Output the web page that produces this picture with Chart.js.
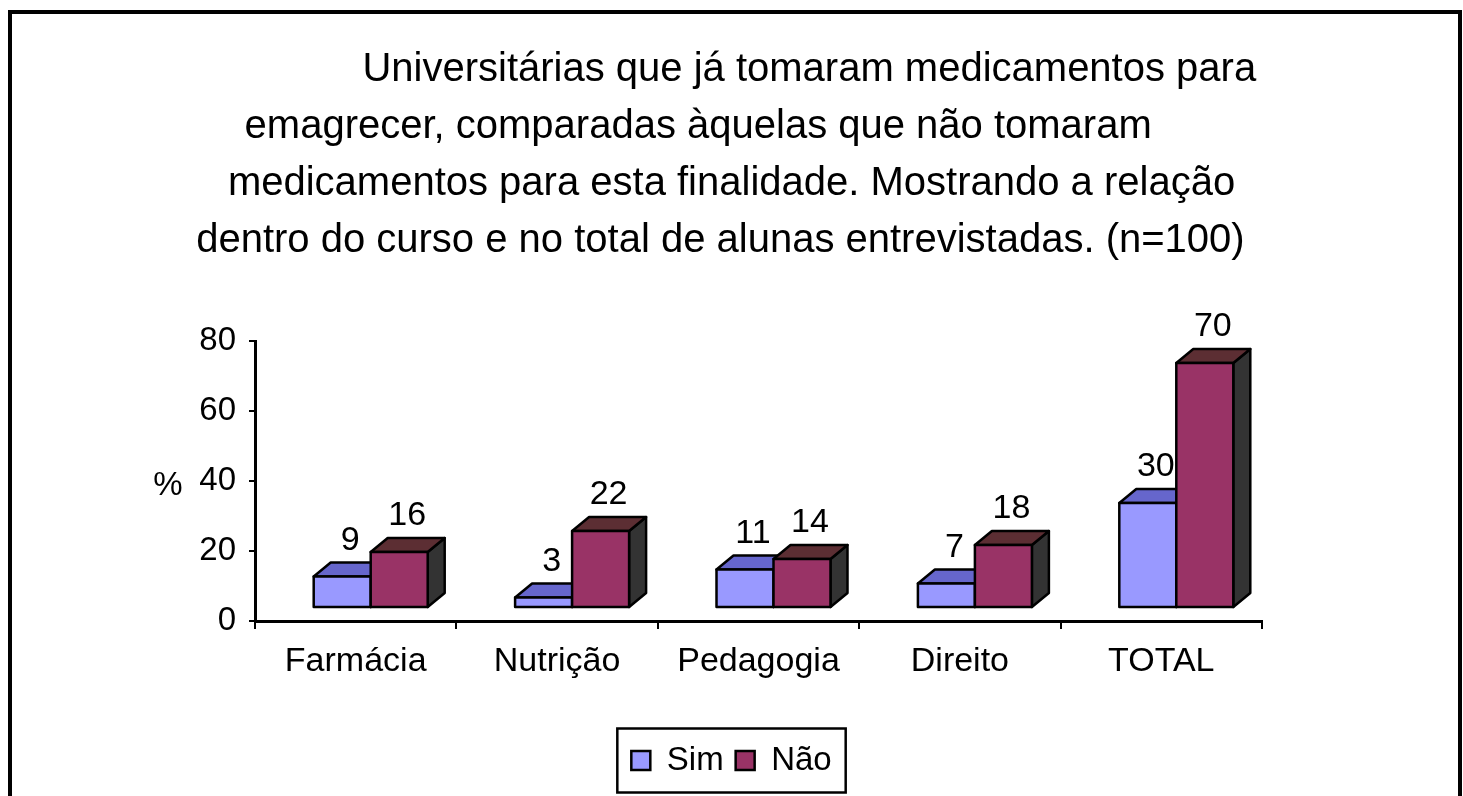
<!DOCTYPE html>
<html><head><meta charset="utf-8">
<script src="https://cdn.jsdelivr.net/npm/chart.js@4.4.0/dist/chart.umd.min.js"></script>
<style>
html,body{margin:0;padding:0;background:#fff;overflow:hidden;width:1463px;height:796px;}
#frame{position:absolute;left:8px;top:10px;width:1446px;height:900px;border:4px solid #000;border-bottom:none;}
#c{position:absolute;left:0;top:0;}
</style></head><body>
<div id="frame"></div>
<canvas id="c" width="1463" height="800"></canvas>
<script>
// ---- data ----
const categories = ['Farmácia', 'Nutrição', 'Pedagogia', 'Direito', 'TOTAL'];
const simValues = [9, 3, 11, 7, 30];
const naoValues = [16, 22, 14, 18, 70];
const seriesNames = ['Sim', 'Não'];
const yTickValues = [0, 20, 40, 60, 80];
const yAxisLabel = '%';
const titleLines = [
  '              Universitárias que já tomaram medicamentos para',
  'emagrecer, comparadas àquelas que não tomaram      ',
  'medicamentos para esta finalidade. Mostrando a relação',
  'dentro do curso e no total de alunas entrevistadas. (n=100)  '
];

// ---- styling ----
const FONT = "'Liberation Sans', Arial, sans-serif";
const DX = 17, DY = -14;          // oblique depth of the 3D boxes
const SHIFT_X = 15, SHIFT_Y = -13; // floor offset of the bars
const faces = [
  {front: '#9999FF', top: '#6666CC', side: '#4C4C99'},
  {front: '#993366', top: '#5C2E33', side: '#333333'}
];

Chart.defaults.font.family = FONT;
Chart.defaults.color = '#000';

function poly(ctx, pts, fill) {
  ctx.beginPath();
  ctx.moveTo(pts[0][0], pts[0][1]);
  for (let i = 1; i < pts.length; i++) ctx.lineTo(pts[i][0], pts[i][1]);
  ctx.closePath();
  ctx.fillStyle = fill;
  ctx.fill();
  ctx.stroke();
}

const bars3d = {
  id: 'bars3d',
  beforeDatasetsDraw(chart) {
    chart.ctx.save();
    chart.ctx.translate(SHIFT_X, SHIFT_Y);
  },
  afterDatasetsDraw(chart) {
    const ctx = chart.ctx;
    const metas = [chart.getDatasetMeta(0), chart.getDatasetMeta(1)];
    ctx.lineJoin = 'round';
    ctx.lineWidth = 2.5;
    ctx.strokeStyle = '#000';
    for (let i = 0; i < categories.length; i++) {
      metas.forEach((meta, d) => {
        const p = meta.data[i].getProps(['x', 'y', 'base', 'width'], true);
        const l = p.x - p.width / 2, r = p.x + p.width / 2, t = p.y, b = p.base;
        const c = faces[d];
        poly(ctx, [[r, t], [r + DX, t + DY], [r + DX, b + DY], [r, b]], c.side);
        poly(ctx, [[l, t], [l + DX, t + DY], [r + DX, t + DY], [r, t]], c.top);
        poly(ctx, [[l, t], [r, t], [r, b], [l, b]], c.front);
      });
    }
    ctx.fillStyle = '#000';
    ctx.font = '34px ' + FONT;
    ctx.textAlign = 'center';
    ctx.textBaseline = 'alphabetic';
    metas.forEach((meta, d) => {
      const vals = d === 0 ? simValues : naoValues;
      meta.data.forEach((el, i) => {
        const p = el.getProps(['x', 'y'], true);
        ctx.fillText(String(vals[i]), p.x + 8, p.y - 27);
      });
    });
    ctx.restore();
  },
  afterDraw(chart) {
    const ctx = chart.ctx;
    const ys = chart.scales.y;
    ctx.save();
    ctx.fillStyle = '#000';
    ctx.font = '33px ' + FONT;
    ctx.textAlign = 'center';
    ctx.textBaseline = 'middle';
    ctx.fillText(yAxisLabel, 168, ys.getPixelForValue(40) + 5);
    const hb = chart.legend.legendHitBoxes;
    if (hb && hb.length) {
      const left = hb[0].left - 14;
      const last = hb[hb.length - 1];
      const right = last.left + last.width + 14;
      const cy = hb[0].top + hb[0].height / 2;
      ctx.strokeStyle = '#000';
      ctx.lineWidth = 2.5;
      ctx.strokeRect(left, cy - 32, right - left, 64);
    }
    ctx.restore();
  }
};

new Chart(document.getElementById('c'), {
  type: 'bar',
  data: {
    labels: categories,
    datasets: [
      {label: seriesNames[0], data: simValues, backgroundColor: faces[0].front, borderColor: '#000', borderWidth: 2.5, clip: false},
      {label: seriesNames[1], data: naoValues, backgroundColor: faces[1].front, borderColor: '#000', borderWidth: 2.5, clip: false}
    ]
  },
  options: {
    responsive: false,
    animation: false,
    events: [],
    categoryPercentage: 0.566,
    barPercentage: 1,
    layout: {padding: {left: 10, right: 10, top: 0, bottom: 13}},
    plugins: {
      title: {
        display: true,
        text: titleLines,
        color: '#000',
        font: {family: FONT, size: 40, weight: 'normal', lineHeight: 1.425},
        padding: {top: 41, bottom: 72}
      },
      legend: {
        position: 'bottom',
        labels: {
          font: {family: FONT, size: 33},
          color: '#000',
          boxWidth: 19,
          boxHeight: 19,
          padding: 12,
          sort: (a, b) => a.datasetIndex - b.datasetIndex
        }
      },
      tooltip: {enabled: false}
    },
    scales: {
      x: {
        grid: {offset: true, drawOnChartArea: false, drawTicks: true, tickLength: 8, color: '#000', lineWidth: 2},
        border: {display: true, color: '#000', width: 3},
        ticks: {font: {family: FONT, size: 34}, color: '#000', padding: 12},
        afterFit(scale) { scale.height = 111; }
      },
      y: {
        min: 0, max: 80,
        afterBuildTicks(scale) { scale.ticks = yTickValues.map(v => ({value: v})); },
        grid: {drawOnChartArea: false, drawTicks: true, tickLength: 6, color: '#000', lineWidth: 2},
        border: {display: true, color: '#000', width: 3},
        ticks: {font: {family: FONT, size: 33}, color: '#000', padding: 13},
        afterFit(scale) { scale.width = 245; }
      },
      yRight: {
        type: 'linear',
        position: 'right',
        display: true,
        grid: {display: false, drawTicks: false},
        border: {display: false},
        ticks: {display: false},
        afterFit(scale) { scale.width = 191; }
      }
    }
  },
  plugins: [bars3d]
});
</script>
</body></html>
